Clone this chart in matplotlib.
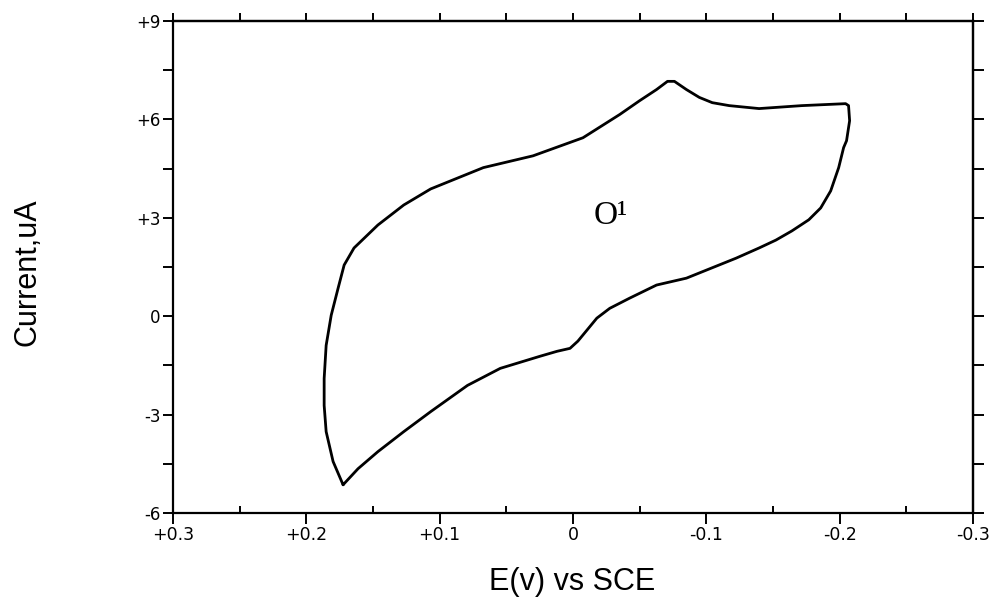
import matplotlib
matplotlib.use("Agg")
import matplotlib.pyplot as plt
from matplotlib.ticker import MultipleLocator, FixedLocator, FixedFormatter

# Cyclic voltammogram (E in V vs SCE, current in uA)
potential_v = [
    0.1724, 0.1612, 0.1463, 0.1269, 0.1067, 0.0791, 0.0545, 0.0246, 0.0119,
    0.0022, -0.0037, -0.0104, -0.0179, -0.0276, -0.0425, -0.0627, -0.0851,
    -0.1224, -0.1396, -0.1522, -0.1642, -0.1769, -0.1858, -0.1933, -0.1993,
    -0.2030, -0.2052, -0.2075, -0.2067, -0.2045,
    -0.1716, -0.1396, -0.1172, -0.1045, -0.0948, -0.0851, -0.0761, -0.0709,
    -0.0627, -0.0500, -0.0351, -0.0075, 0.0299, 0.0672, 0.1067, 0.1269,
    0.1463, 0.1642, 0.1716, 0.1761, 0.1813, 0.1851, 0.1866, 0.1866, 0.1851,
    0.1799, 0.1724,
]
current_ua = [
    -5.14, -4.65, -4.13, -3.52, -2.91, -2.11, -1.59, -1.22, -1.07,
    -0.98, -0.76, -0.43, -0.06, 0.24, 0.55, 0.95, 1.16,
    1.77, 2.08, 2.32, 2.60, 2.94, 3.30, 3.82, 4.53,
    5.14, 5.35, 5.96, 6.42, 6.48,
    6.42, 6.33, 6.42, 6.51, 6.67, 6.91, 7.16, 7.16,
    6.91, 6.57, 6.15, 5.44, 4.89, 4.53, 3.88, 3.39,
    2.78, 2.08, 1.56, 0.86, 0.03, -0.89, -1.90, -2.72, -3.52,
    -4.43, -5.14,
]

x_tick_values = [0.3, 0.2, 0.1, 0.0, -0.1, -0.2, -0.3]
x_tick_labels = ["+0.3", "+0.2", "+0.1", "0", "-0.1", "-0.2", "-0.3"]
y_tick_values = [9, 6, 3, 0, -3, -6]
y_tick_labels = ["+9", "+6", "+3", "0", "-3", "-6"]
annotation_text = "O\u00b9"

sans = ["DejaVu Sans"]
label_sans = ["Liberation Sans", "DejaVu Sans"]
serif = ["Liberation Serif", "DejaVu Serif"]

fig = plt.figure(figsize=(9.98, 6.0), dpi=100)
ax = fig.add_axes([0.1733, 0.145, 0.8016, 0.82])

ax.plot(potential_v, current_ua, color="black", lw=2.0,
        solid_joinstyle="round", solid_capstyle="round")

ax.set_xlim(0.3, -0.3)
ax.set_ylim(-6, 9)

for s in ax.spines.values():
    s.set_linewidth(1.6)

# bottom axis
ax.xaxis.set_major_locator(FixedLocator(x_tick_values))
ax.xaxis.set_major_formatter(FixedFormatter(x_tick_labels))
ax.xaxis.set_minor_locator(MultipleLocator(0.05))
ax.tick_params(axis="x", which="major", direction="out", length=8, width=1.4,
               pad=1, labelsize=12.5)
ax.tick_params(axis="x", which="minor", direction="in", length=5, width=1.4)

# left axis
ax.yaxis.set_major_locator(FixedLocator(y_tick_values))
ax.yaxis.set_major_formatter(FixedFormatter(y_tick_labels))
ax.yaxis.set_minor_locator(MultipleLocator(1.5))
ax.tick_params(axis="y", which="both", direction="out", length=7, width=1.4,
               pad=2, labelsize=12)

for lab in ax.get_xticklabels() + ax.get_yticklabels():
    lab.set_family(sans)

# top axis (ticks only)
top = ax.secondary_xaxis("top")
top.xaxis.set_major_locator(MultipleLocator(0.05))
top.tick_params(axis="x", which="major", direction="out", length=6, width=1.4,
                labeltop=False)
top.spines["top"].set_linewidth(1.6)

# right axis (ticks only)
right = ax.secondary_yaxis("right")
right.yaxis.set_major_locator(MultipleLocator(1.5))
right.tick_params(axis="y", which="major", direction="out", length=8, width=1.4,
                  labelright=False)
right.spines["right"].set_linewidth(1.6)

ax.text(-0.028, 3.06, annotation_text, family=serif, fontsize=24,
        ha="center", va="center")

fig.text(0.573, 0.03, "E(v) vs SCE", family=label_sans, fontsize=22,
         ha="center", va="center")
fig.text(0.028, 0.547, "Current,uA", family=label_sans, fontsize=22,
         ha="center", va="center", rotation=90)

fig.savefig("out.png", dpi=100, facecolor="white")
